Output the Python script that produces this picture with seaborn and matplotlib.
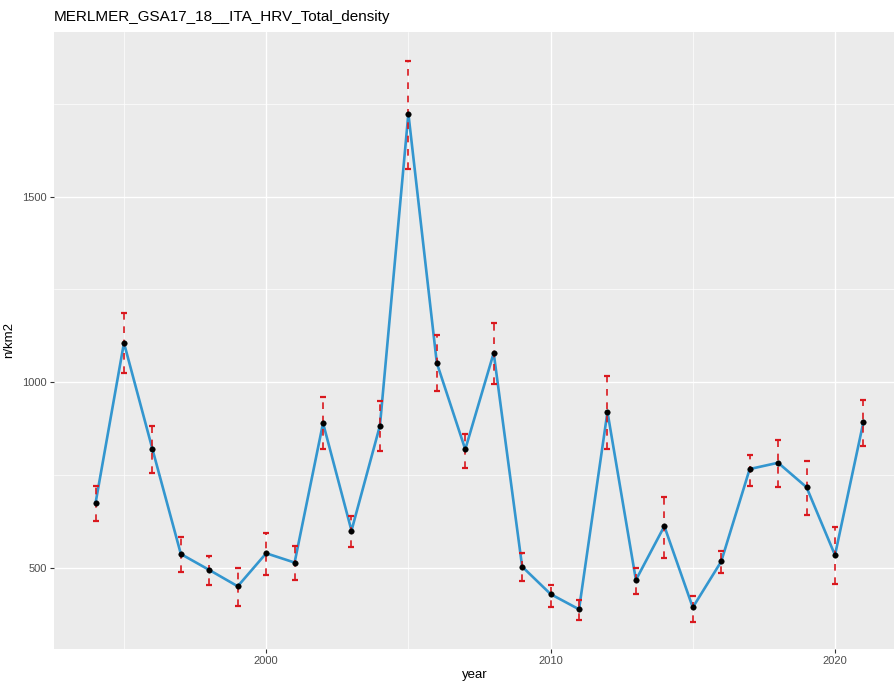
import numpy as np
import pandas as pd
import matplotlib
matplotlib.use("Agg")
import matplotlib.pyplot as plt
import seaborn as sns
from matplotlib.ticker import MultipleLocator

years = list(range(1994, 2022))
density = [674, 1106, 820, 537, 494, 450, 539, 514, 890, 600, 883, 1724, 1052, 819,
           1079, 503, 429, 388, 920, 467, 612, 393, 517, 766, 783, 717, 534, 893]
upper = [720, 1186, 882, 582, 532, 499, 594, 558, 959, 639, 949, 1866, 1127, 860,
         1160, 541, 454, 413, 1016, 499, 692, 424, 544, 805, 843, 787, 609, 953]
lower = [627, 1025, 755, 489, 454, 397, 480, 468, 821, 555, 814, 1575, 976, 768,
         995, 463, 395, 360, 821, 429, 525, 354, 485, 719, 717, 642, 456, 828]

title = "MERLMER_GSA17_18__ITA_HRV_Total_density"
xlabel = "year"
ylabel = "n/km2"

df = pd.DataFrame({"year": years, "density": density, "upper": upper, "lower": lower})

sns.set_theme(style="darkgrid")
plt.rcParams["font.family"] = ["Liberation Sans", "DejaVu Sans"]

fig = plt.figure(figsize=(8.95, 6.81), dpi=100)
ax = fig.add_axes([54 / 895, 32 / 681, (895 - 54) / 895, (649 - 32) / 681])
ax.set_facecolor("#EBEBEB")

sns.lineplot(data=df, x="year", y="density", ax=ax, color="#3396CF", linewidth=1.9, zorder=2)

yerr = np.array([df["density"] - df["lower"], df["upper"] - df["density"]])
eb = ax.errorbar(df["year"], df["density"], yerr=yerr, fmt="none", ecolor="#D9181E",
                 elinewidth=1.2, capsize=2.3, capthick=1.6, zorder=3)
for lc in eb[2]:
    lc.set_linestyle((0, (4, 4)))

sns.scatterplot(data=df, x="year", y="density", ax=ax, color="black", s=16,
                edgecolor="black", linewidth=0.3, zorder=4)

ax.set_xlim(1992.54, 2022.11)
ax.set_ylim(281, 1944)
ax.xaxis.set_major_locator(MultipleLocator(10))
ax.xaxis.set_minor_locator(MultipleLocator(5))
ax.yaxis.set_major_locator(MultipleLocator(500))
ax.yaxis.set_minor_locator(MultipleLocator(250))
ax.grid(which="major", color="white", linewidth=1.0)
ax.grid(which="minor", color="white", linewidth=0.5)
ax.set_axisbelow(True)
for s in ax.spines.values():
    s.set_visible(False)

ax.tick_params(axis="both", which="major", bottom=True, left=True, length=3, width=0.8,
               color="#333333", labelsize=8, labelcolor="#4D4D4D", pad=2)
ax.tick_params(axis="both", which="minor", bottom=False, left=False, length=0)

ax.set_xlabel(xlabel, fontsize=9.5, color="black", labelpad=2)
ax.set_ylabel(ylabel, fontsize=9.5, color="black", labelpad=5)
ax.set_title(title, fontsize=11, loc="left", color="black", pad=8)

fig.savefig("out.png", dpi=100)
